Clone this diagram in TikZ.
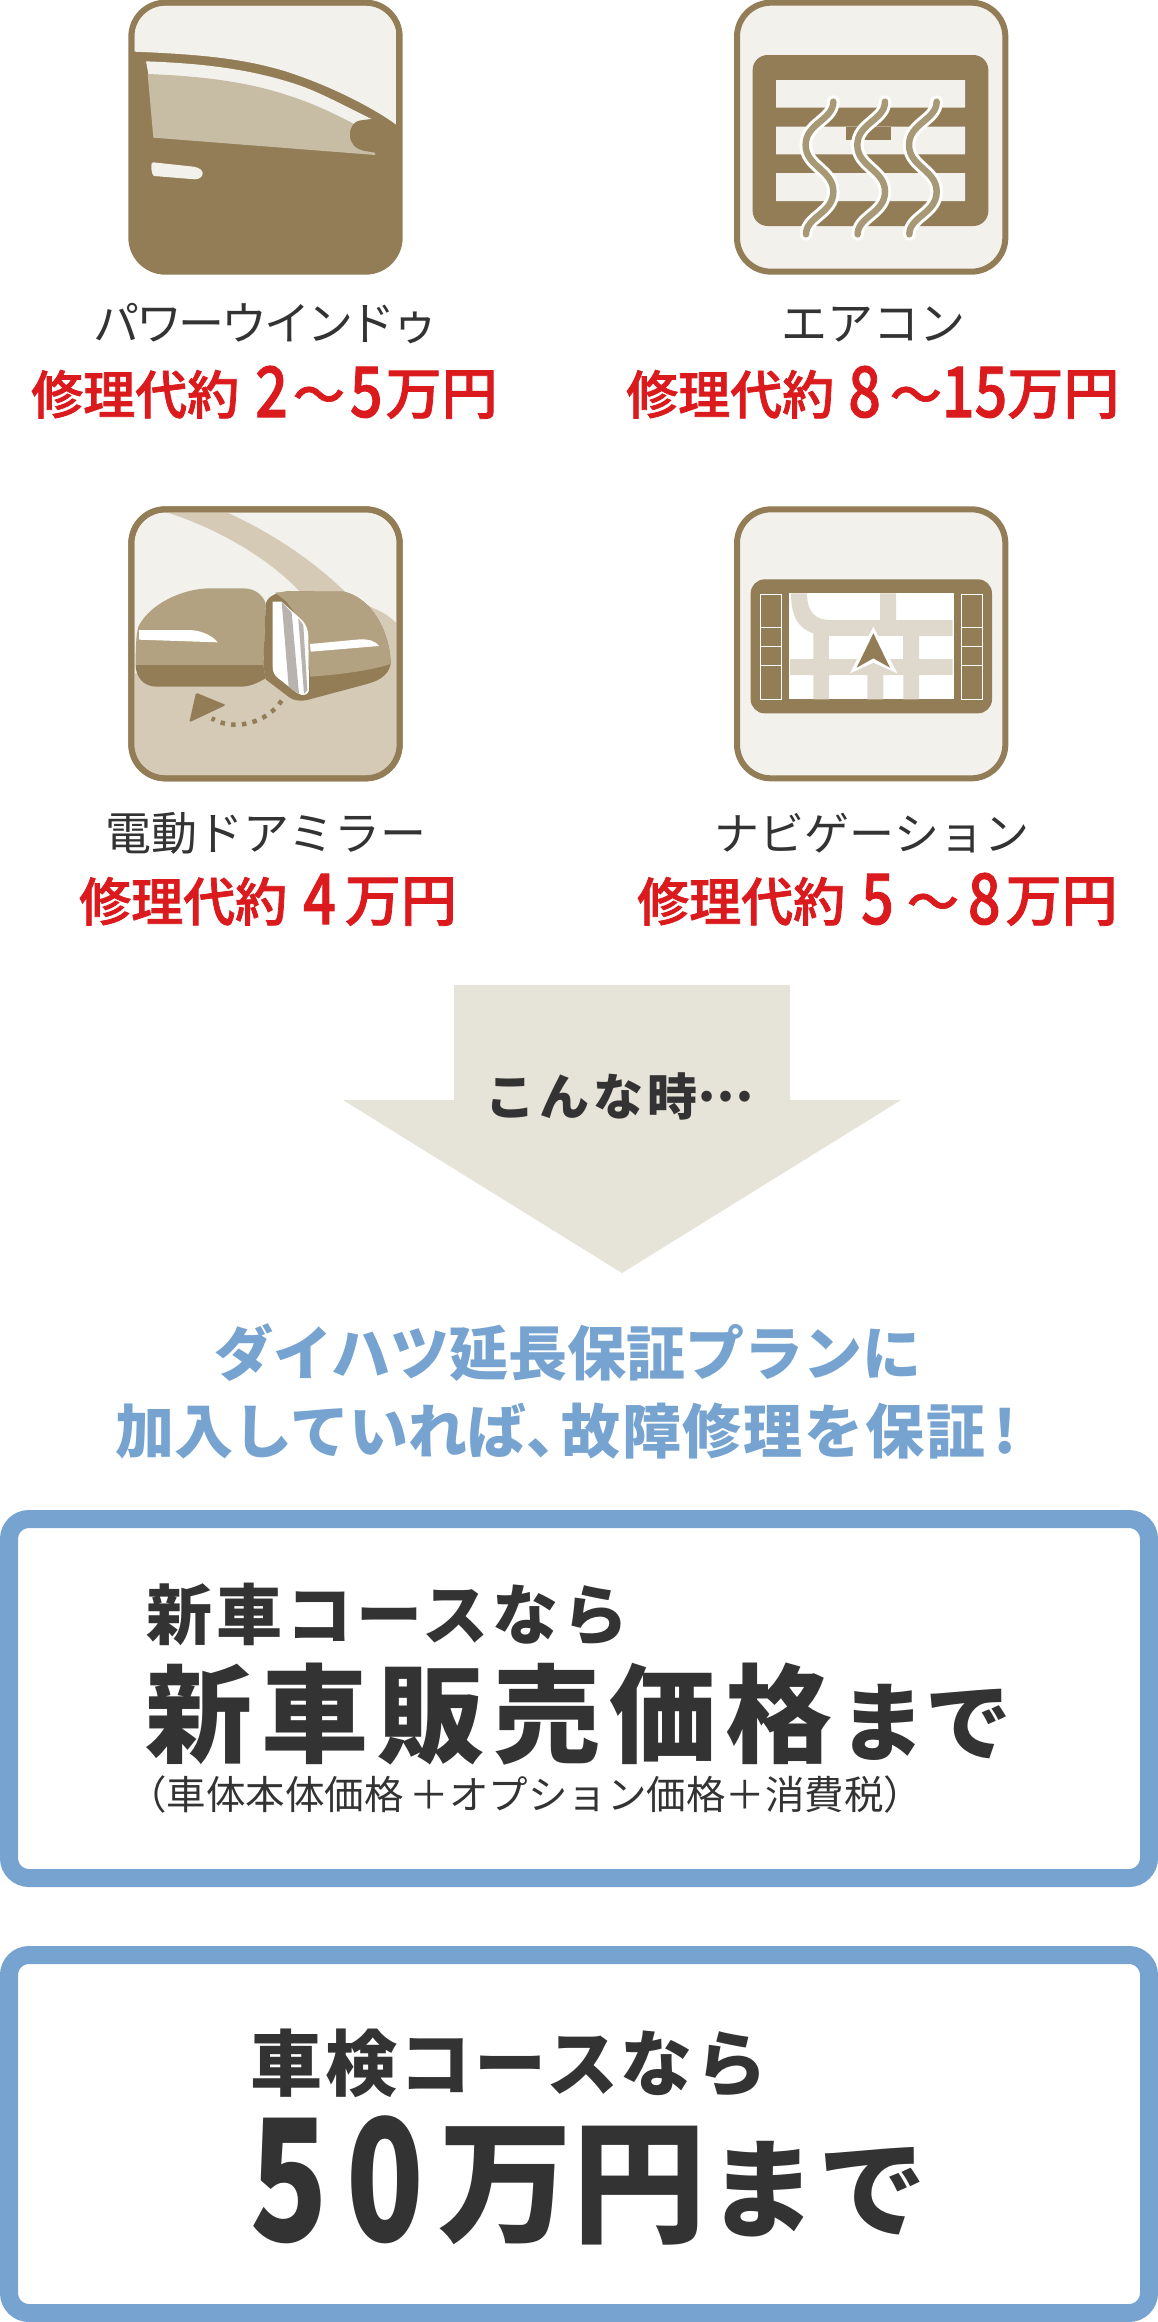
\documentclass[tikz,border=0pt]{standalone}
\usepackage{graphicx}
\usepackage{fontspec}
\setmainfont{Noto Sans CJK JP}
\newfontfamily\medf[FakeBold=1.4]{Noto Sans CJK JP Medium}
\definecolor{brn}{HTML}{927D57}
\definecolor{pale}{HTML}{F2F1EC}
\definecolor{glass}{HTML}{C7BCA4}
\definecolor{sand}{HTML}{D5CAB6}
\definecolor{mir}{HTML}{B3A282}
\definecolor{wavec}{HTML}{A89976}
\definecolor{road}{HTML}{DFD8CC}
\definecolor{silver}{HTML}{B8B3AE}
\definecolor{cred}{HTML}{DB1A1D}
\definecolor{cgrey}{HTML}{333333}
\definecolor{cblue}{HTML}{76A3CF}
\definecolor{arrowc}{HTML}{E6E3D8}
\newcommand{\fs}[1]{\fontsize{#1}{#1}\selectfont}
\newcommand{\pd}[1]{\raisebox{-3pt}{\fontsize{70}{70}\selectfont\scalebox{0.82}[1]{#1}}}
\newcommand{\mn}{{\fs{56}万円}}
\newcommand{\bd}[1]{\raisebox{-9pt}{\fontsize{170}{170}\selectfont\scalebox{0.75}[1]{#1}}}
\newcommand{\wavestroke}{(370,305) .. controls (370,360) and (287,370) .. (287,435) .. controls (287,500) and (370,510) .. (370,575) .. controls (370,640) and (288,650) .. (288,703)}
\tikzset{
 iconframe/.style={draw=brn,line width=6pt,rounded corners=34pt},
 innerclip/.style={rounded corners=31pt},
 lab/.style={text=cgrey,inner sep=0pt,anchor=base,font=\fs{46}},
 price/.style={text=cred,inner sep=0pt,anchor=base west,font=\medf\fs{52}},
 bigbox/.style={draw=cblue,line width=18pt,fill=white,rounded corners=20pt},
 dk/.style={text=cgrey,inner sep=0pt,anchor=base west},
 headl/.style={text=cblue,inner sep=0pt,anchor=base,font=\fs{59}\bfseries}
}
\begin{document}
\begin{tikzpicture}[x=1pt,y=-1pt]
\useasboundingbox (0,0) rectangle (1158,2322);
\fill[white] (0,0) rectangle (1158,2322);
% ---------- icon 1: power window
\begin{scope}[shift={(100,0)},scale=1/3]
 \fill[brn,rounded corners=34pt] (94,8) rectangle (899,815);
 \begin{scope}
  \clip[innerclip] (103,16) rectangle (890,806);
  \fill[pale] (103,155) .. controls (300,163) and (430,175) .. (560,215) .. controls (700,260) and (830,330) .. (890,375) -- (890,0) -- (103,0) -- cycle;
 \end{scope}
 \fill[pale] (138,184) .. controls (300,190) and (440,205) .. (580,250) .. controls (660,275) and (740,322) .. (815,357) -- (790,400) -- (160,300) -- cycle;
 \fill[glass] (143,222) .. controls (300,228) and (440,245) .. (560,285) .. controls (640,310) and (700,340) .. (755,368) -- (800,400) -- (825,458) -- (826,465) -- (160,413) -- cycle;
 \fill[brn] (815,357) -- (790,360) .. controls (760,362) and (750,380) .. (750,405) .. controls (750,430) and (765,445) .. (790,452) -- (825,458) -- (880,470) -- (890,375) -- cycle;
 \fill[pale] (160,487) -- (280,500) .. controls (300,503) and (308,512) .. (308,520) .. controls (308,530) and (298,538) .. (285,538) -- (162,528) .. controls (155,525) and (152,500) .. (155,490) -- cycle;
 \draw[iconframe] (94,8) rectangle (899,815);
\end{scope}
% ---------- icon 2: air conditioner
\begin{scope}[shift={(710,0)},scale=1/3]
 \path[iconframe,fill=pale] (81,8) rectangle (886,815);
 \fill[brn,rounded corners=15pt] (128,165) rectangle (835,678);
 \fill[pale] (198,240) rectangle (765,323) (198,380) rectangle (765,463) (198,519) rectangle (765,603);
 \fill[brn] (408,380) rectangle (543,420);
 \foreach \dx in {0,155,310} {
  \begin{scope}[shift={(\dx,0)}]
   \draw[white,line width=12.5pt,line cap=round] \wavestroke;
   \draw[wavec,line width=6.5pt,line cap=round] \wavestroke;
  \end{scope}
 }
\end{scope}
% ---------- icon 3: mirror
\begin{scope}[shift={(100,490)},scale=1/3]
 \path[iconframe,fill=pale] (94,58) rectangle (899,865);
 \begin{scope}
  \clip[innerclip] (103,67) rectangle (890,856);
  \fill[sand] (200,67) -- (380,67) .. controls (520,130) and (650,220) .. (740,310) -- (820,355) .. controls (850,365) and (875,385) .. (890,400) -- (890,860) -- (103,860) -- (103,550) -- (500,550) -- (600,305) .. controls (500,200) and (350,115) .. (200,67) -- cycle;
 \end{scope}
 % left mirror
 \fill[mir] (107,525) .. controls (107,470) and (108,440) .. (115,410) .. controls (150,340) and (250,295) .. (330,295) -- (430,295) .. controls (470,295) and (490,320) .. (497,340) -- (490,530) -- cycle;
 \fill[brn] (107,525) -- (490,525) -- (497,565) .. controls (470,580) and (450,590) .. (420,590) -- (170,590) .. controls (130,590) and (107,560) .. (107,525) -- cycle;
 \fill[white] (117,420) -- (270,420) .. controls (310,422) and (340,440) .. (353,457) -- (117,449) -- cycle;
 % right mirror
 \fill[brn] (497,345) .. controls (500,322) and (520,310) .. (560,304) -- (730,305) .. controls (810,320) and (870,420) .. (872,522) .. controls (865,560) and (830,575) .. (790,585) -- (640,625) .. controls (610,635) and (585,635) .. (565,620) -- (497,568) -- (490,525) -- cycle;
 \fill[mir] (525,308) -- (570,304) -- (730,305) .. controls (810,320) and (870,420) .. (872,522) .. controls (800,545) and (700,555) .. (630,560) -- (620,420) -- (560,335) -- cycle;
 \fill[white] (630,462) -- (780,448) .. controls (810,447) and (828,455) .. (837,468) -- (632,485) -- cycle;
 \fill[white] (518,335) -- (545,335) -- (600,385) .. controls (618,400) and (625,420) .. (625,440) -- (627,600) .. controls (625,612) and (615,616) .. (605,615) -- (590,608) -- (535,565) .. controls (522,555) and (518,545) .. (518,530) -- cycle;
 \fill[silver] (545,335) -- (575,368) -- (597,612) -- (566,590) -- cycle;
 \fill[silver] (595,385) -- (610,405) -- (622,600) -- (612,612) -- cycle;
 % rotation hint
 \draw[brn,line width=4.5pt,dash pattern=on 4.5pt off 6.3pt] (545,632) .. controls (500,700) and (400,725) .. (335,685);
 \fill[brn,rounded corners=1.5pt] (288,608) -- (378,645) -- (268,697) -- cycle;
 \draw[iconframe] (94,58) rectangle (899,865);
\end{scope}
% ---------- icon 4: navigation
\begin{scope}[shift={(710,490)},scale=1/3]
 \path[iconframe,fill=pale] (81,58) rectangle (886,865);
 \fill[brn,rounded corners=14pt] (122,268) rectangle (846,670);
 \fill[white] (238,310) rectangle (732,628);
 \fill[road] (243,310) -- (291,310) .. controls (291,370) and (320,390) .. (360,390) -- (510,390) -- (510,310) -- (558,310) -- (558,390) -- (728,390) -- (728,438) -- (627,438) -- (627,507) -- (728,507) -- (728,555) -- (627,555) -- (627,628) -- (580,628) -- (580,555) -- (520,555) -- (520,628) -- (472,628) -- (472,555) -- (357,555) -- (357,628) -- (310,628) -- (310,555) -- (240,555) -- (240,507) -- (310,507) -- (310,430) .. controls (265,415) and (243,380) .. (243,310) -- cycle;
 \fill[white] (357,438) rectangle (580,507);
 \fill[road] (472,507) rectangle (580,555);
 \fill[white] (490,410) -- (562,550) -- (490,518) -- (420,550) -- cycle;
 \fill[brn] (490,430) -- (540,533) -- (490,505) -- (440,533) -- cycle;
 \foreach \xa/\xb in {152/215,755/817} {
  \draw[white,line width=1.6pt] (\xa,313) rectangle (\xb,628);
  \draw[white,line width=1.6pt] (\xa,413) -- (\xb,413) (\xa,470) -- (\xb,470) (\xa,527) -- (\xb,527);
 }
\end{scope}
% ---------- labels
\node[lab,font={\fs{46}\addfontfeature{LetterSpace=-7}}] (l1) at (266,340) {パワーウインドゥ};
\node[lab] (l2) at (873,340) {エアコン};
\node[lab] (l3) at (266,850) {電動ドアミラー};
\node[lab,font=\fs{45}] (l4) at (872,850) {ナビゲーション};
\node[price] (p1) at (31,414) {修理代約\hspace{16pt}\pd{2}\hspace{5pt}〜\hspace{5pt}\pd{5}\hspace{3pt}\mn};
\node[price] (p2) at (626,414) {修理代約\hspace{14pt}\pd{8}\hspace{9pt}〜\hspace{0pt}\pd{1}\hspace{0pt}\pd{5}\hspace{0pt}\mn};
\node[price] (p3) at (79,921) {修理代約\hspace{16pt}\pd{4}\hspace{9pt}\mn};
\node[price] (p4) at (637,921) {修理代約\hspace{16pt}\pd{5}\hspace{13pt}〜\hspace{9pt}\pd{8}\hspace{5pt}\mn};
% ---------- arrow
\fill[arrowc] (454,985) -- (790,985) -- (790,1100) -- (901,1100) -- (622,1273) -- (343,1100) -- (454,1100) -- cycle;
\node[dk,font={\fs{50}\bfseries\addfontfeature{LetterSpace=8}}] (ar) at (485,1115) {こんな時\raisebox{14pt}{…}};
% ---------- headline
\node[headl] (h1) at (568,1375) {ダイハツ延長保証プランに};
\node[headl,anchor=base west] (h2) at (115,1453) {加入していれば、\hspace{-24pt}{\addfontfeature{LetterSpace=3}故障修理を保証}\hspace{8pt}!};
% ---------- box 1
\path[bigbox] (9,1519) rectangle (1149,1878);
\node[dk,font={\fs{66}\bfseries\addfontfeature{LetterSpace=6}}] (b1a) at (146,1639) {新車コースなら};
\node[dk,font={\fs{107}\bfseries\addfontfeature{LetterSpace=8.5}}] (b1b) at (145,1754) {新車販売価格};
\node[dk,font={\fs{86}\bfseries}] (b1c) at (839,1754) {まで};
\node[dk,font={\fs{39.5}}] (b1d) at (127,1809) {（車体本体価格\hspace{6pt}＋オプション価格＋消費税）};
% ---------- box 2
\path[bigbox] (9,1955) rectangle (1149,2313);
\node[dk,font={\fs{72}\bfseries\addfontfeature{LetterSpace=4}}] (b2a) at (250,2090) {車検コースなら};
\node[dk,font={\fs{134}\bfseries}] (b2b) at (250,2232) {\bd{5}\hspace{19pt}\bd{0}\hspace{14pt}万円};
\node[dk,font={\fs{108}\bfseries\addfontfeature{LetterSpace=2}}] (b2c) at (708,2229) {まで};
\end{tikzpicture}
\end{document}
